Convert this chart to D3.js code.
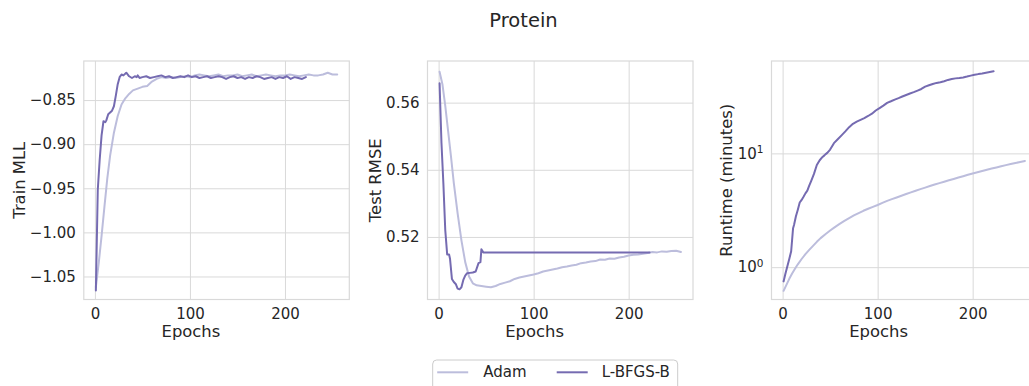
<!DOCTYPE html>
<html>
<head>
<meta charset="utf-8">
<script src="https://cdn.jsdelivr.net/npm/d3@7"></script>
<style>
  body { margin: 0; background: #fff; }
  text { font-family: 'DejaVu Sans', sans-serif; fill: #262626; }
</style>
</head>
<body>
<div id="chart"></div>
<script>
const WIDTH = 1029;
const HEIGHT = 386;

// shared x ticks
const epochTicks = [0, 100, 200];
const seriesNames = ['Adam', 'L-BFGS-B'];

// Adam
const adamEpochs = [1, 4, 7, 10, 13, 16, 20, 24, 28, 32, 36, 40, 45, 50, 55, 60, 65, 70, 75, 80,
  85, 90, 95, 100, 105, 110, 115, 120, 125, 130, 135, 140, 145, 150, 155, 160, 165, 170, 175, 180,
  185, 190, 195, 200, 205, 210, 215, 220, 225, 230, 235, 240, 245, 250, 255];
const adamMll = [-1.062, -1.035, -1.004, -0.971, -0.939, -0.913, -0.887, -0.868, -0.855, -0.848,
  -0.843, -0.839, -0.837, -0.835, -0.834, -0.829, -0.826, -0.824, -0.825, -0.824,
  -0.825, -0.824, -0.823, -0.824, -0.822, -0.821, -0.822, -0.823, -0.822, -0.821,
  -0.823, -0.822, -0.822, -0.821, -0.823, -0.822, -0.821, -0.823, -0.822, -0.821,
  -0.822, -0.823, -0.822, -0.822, -0.821, -0.822, -0.823, -0.822, -0.821, -0.822,
  -0.822, -0.821, -0.819, -0.821, -0.821];
const adamRmse = [0.5692, 0.5655, 0.5590, 0.5515, 0.5440, 0.5360, 0.5270, 0.5190, 0.5125, 0.5082,
  0.5062, 0.5056, 0.5054, 0.5052, 0.5050, 0.5054, 0.5060, 0.5064, 0.5068, 0.5075,
  0.5079, 0.5082, 0.5085, 0.5088, 0.5092, 0.5097, 0.5100, 0.5103, 0.5106, 0.5110,
  0.5112, 0.5115, 0.5117, 0.5122, 0.5124, 0.5127, 0.5128, 0.5133, 0.5132, 0.5136,
  0.5135, 0.5139, 0.5141, 0.5145, 0.5147, 0.5148, 0.5150, 0.5152, 0.5155, 0.5154,
  0.5157, 0.5156, 0.5158, 0.5159, 0.5155];
const adamRuntime = [0.62, 0.70, 0.79, 0.88, 0.97, 1.06, 1.18, 1.30, 1.42, 1.54,
  1.67, 1.80, 1.95, 2.10, 2.25, 2.40, 2.55, 2.70, 2.85, 2.99,
  3.13, 3.26, 3.39, 3.52, 3.67, 3.82, 3.96, 4.10, 4.24, 4.39,
  4.54, 4.70, 4.85, 5.00, 5.16, 5.32, 5.48, 5.64, 5.80, 5.96,
  6.13, 6.30, 6.48, 6.65, 6.83, 7.00, 7.17, 7.35, 7.52, 7.70,
  7.88, 8.05, 8.23, 8.40, 8.57];

// L-BFGS-B
const lbfgsEpochs = [1, 3, 5, 7, 9, 11, 12, 14, 16, 18, 20, 22, 24, 26, 28, 30, 33, 36, 39, 42,
  44, 45, 47, 50, 54, 58, 62, 66, 70, 74, 78, 82, 86, 90, 94, 98, 102, 106, 110, 114,
  118, 122, 126, 130, 134, 138, 142, 146, 150, 154, 158, 162, 166, 170, 174, 178, 182, 186, 190, 194,
  198, 202, 206, 210, 214, 218, 222];
const lbfgsMll = [-1.066, -0.952, -0.918, -0.890, -0.874, -0.875, -0.873, -0.866, -0.864, -0.862,
  -0.857, -0.845, -0.832, -0.824, -0.821, -0.822, -0.819, -0.823, -0.825, -0.823,
  -0.824, -0.822, -0.825, -0.824, -0.823, -0.825, -0.824, -0.823, -0.822, -0.824,
  -0.823, -0.825, -0.824, -0.823, -0.824, -0.822, -0.824, -0.823, -0.825, -0.824,
  -0.823, -0.825, -0.824, -0.823, -0.824, -0.826, -0.824, -0.823, -0.825, -0.824,
  -0.826, -0.824, -0.825, -0.823, -0.824, -0.826, -0.825, -0.824, -0.826, -0.824,
  -0.825, -0.823, -0.826, -0.824, -0.825, -0.826, -0.824];
const lbfgsRmse = [0.5658, 0.5480, 0.5360, 0.5220, 0.5148, 0.5148, 0.5135, 0.5075, 0.5066, 0.5060,
  0.5046, 0.5044, 0.5050, 0.5072, 0.5085, 0.5092, 0.5093, 0.5094, 0.5097, 0.5122,
  0.5125, 0.5163, 0.5154, 0.5154, 0.5154, 0.5154, 0.5154, 0.5154, 0.5154, 0.5154,
  0.5154, 0.5154, 0.5154, 0.5154, 0.5154, 0.5154, 0.5154, 0.5154, 0.5154, 0.5154,
  0.5154, 0.5154, 0.5154, 0.5154, 0.5154, 0.5154, 0.5154, 0.5154, 0.5154, 0.5154,
  0.5154, 0.5154, 0.5154, 0.5154, 0.5154, 0.5154, 0.5154, 0.5154, 0.5154, 0.5154,
  0.5154, 0.5154, 0.5154, 0.5154, 0.5154, 0.5154, 0.5154];
const lbfgsRuntime = [0.75, 0.88, 1.02, 1.18, 1.38, 2.20, 2.35, 2.80, 3.20, 3.70,
  3.90, 4.15, 4.45, 4.70, 5.20, 5.70, 6.60, 7.90, 8.70, 9.30,
  9.60, 9.80, 10.1, 10.8, 12.3, 13.3, 14.4, 15.6, 17.0, 18.2,
  19.0, 19.7, 20.4, 21.3, 22.3, 23.8, 25.0, 26.3, 27.8, 28.7,
  29.7, 30.6, 31.6, 32.6, 33.6, 34.5, 35.6, 36.8, 38.6, 39.7,
  40.7, 41.6, 42.2, 43.0, 44.2, 45.0, 45.6, 46.0, 46.5, 47.3,
  48.2, 49.0, 49.7, 50.3, 51.0, 51.8, 52.6];

const colors = { adam: '#bcbddc', lbfgs: '#756bb1' };
const gridColor = '#d9d9d9';

const plotTop = 61;
const plotH = 238.5;
const plotW = 265.5;

const panels = [
  {
    left: 83.8, label: 'Train MLL', labelX: 24.5,
    y: d3.scaleLinear().domain([-1.0761, -0.8057]),
    ticks: [-1.05, -1.00, -0.95, -0.90, -0.85], fmt: d3.format('.2f'),
    adam: adamMll, lbfgs: lbfgsMll,
  },
  {
    left: 427.5, label: 'Test RMSE', labelX: 381,
    y: d3.scaleLinear().domain([0.50137, 0.5724]),
    ticks: [0.52, 0.54, 0.56], fmt: d3.format('.2f'),
    adam: adamRmse, lbfgs: lbfgsRmse,
  },
  {
    left: 771.5, label: 'Runtime (minutes)', labelX: 732,
    y: d3.scaleLog().domain([0.52, 64.8]),
    ticks: [1, 10], fmt: null, log: true,
    adam: adamRuntime, lbfgs: lbfgsRuntime,
  },
];

const svg = d3.select('#chart')
  .append('svg')
  .attr('width', WIDTH)
  .attr('height', HEIGHT);

svg.append('text')
  .attr('x', 523.5)
  .attr('y', 27)
  .attr('text-anchor', 'middle')
  .style('font-size', '19.5px')
  .text('Protein');

panels.forEach((p, i) => {
  const x = d3.scaleLinear().domain([-11.7, 267.7]).range([0, plotW]);
  p.y.range([plotH, 0]);

  const g = svg.append('g')
    .attr('transform', `translate(${p.left}, ${plotTop})`);

  g.append('defs').append('clipPath')
    .attr('id', `clip${i}`)
    .append('rect')
    .attr('width', plotW)
    .attr('height', plotH);

  // grid + ticks
  const xa = g.append('g')
    .attr('transform', `translate(0, ${plotH})`)
    .call(d3.axisBottom(x).tickValues(epochTicks).tickSize(-plotH).tickPadding(9).tickFormat(d3.format('d')));
  const ya = g.append('g')
    .call(d3.axisLeft(p.y).tickValues(p.ticks).tickSize(-plotW).tickPadding(8)
      .tickFormat(p.fmt ? p.fmt : () => ''));

  [xa, ya].forEach((a) => {
    a.select('.domain').remove();
    a.selectAll('.tick line').attr('stroke', gridColor).attr('stroke-width', 1);
    a.selectAll('.tick text').style('font-size', '15px').attr('fill', '#262626');
  });

  if (p.log) {
    ya.selectAll('.tick text').each(function (d) {
      const t = d3.select(this);
      t.append('tspan').text('10');
      t.append('tspan')
        .attr('dy', '-0.5em')
        .style('font-size', '10.5px')
        .text(Math.round(Math.log10(d)));
    });
  }

  // frame
  g.append('rect')
    .attr('width', plotW)
    .attr('height', plotH)
    .attr('fill', 'none')
    .attr('stroke', gridColor)
    .attr('stroke-width', 1.2);

  const lines = g.append('g').attr('clip-path', `url(#clip${i})`);

  const adamPts = adamEpochs.map((e, k) => [e, p.adam[k]]);
  const lbfgsPts = lbfgsEpochs.map((e, k) => [e, p.lbfgs[k]]);
  const lineGen = d3.line()
    .x((d) => x(d[0]))
    .y((d) => p.y(d[1]));

  lines.append('path')
    .datum(adamPts)
    .attr('fill', 'none')
    .attr('stroke', colors.adam)
    .attr('stroke-width', 2)
    .attr('stroke-linejoin', 'round')
    .attr('stroke-linecap', 'round')
    .attr('d', lineGen);

  lines.append('path')
    .datum(lbfgsPts)
    .attr('fill', 'none')
    .attr('stroke', colors.lbfgs)
    .attr('stroke-width', 2)
    .attr('stroke-linejoin', 'round')
    .attr('stroke-linecap', 'round')
    .attr('d', lineGen);

  // axis labels
  svg.append('text')
    .attr('x', p.left + x(100) + 1)
    .attr('y', 337)
    .attr('text-anchor', 'middle')
    .style('font-size', '16.4px')
    .text('Epochs');

  svg.append('text')
    .attr('transform', `translate(${p.labelX}, ${plotTop + plotH / 2}) rotate(-90)`)
    .attr('text-anchor', 'middle')
    .style('font-size', '16.4px')
    .text(p.label);
});

// legend
const legend = svg.append('g').attr('transform', 'translate(432.7, 360)');
legend.append('rect')
  .attr('width', 245)
  .attr('height', 40)
  .attr('rx', 4)
  .attr('fill', '#fff')
  .attr('stroke', '#cccccc')
  .attr('stroke-width', 1);

const legendItems = [
  { name: seriesNames[0], color: colors.adam, x0: 4.5, tx: 50.5 },
  { name: seriesNames[1], color: colors.lbfgs, x0: 124, tx: 169 },
];
legendItems.forEach((it) => {
  legend.append('line')
    .attr('x1', it.x0)
    .attr('x2', it.x0 + 31)
    .attr('y1', 12.3)
    .attr('y2', 12.3)
    .attr('stroke', it.color)
    .attr('stroke-width', 2);
  legend.append('text')
    .attr('x', it.tx)
    .attr('y', 17.3)
    .style('font-size', '15px')
    .text(it.name);
});
</script>
</body>
</html>
